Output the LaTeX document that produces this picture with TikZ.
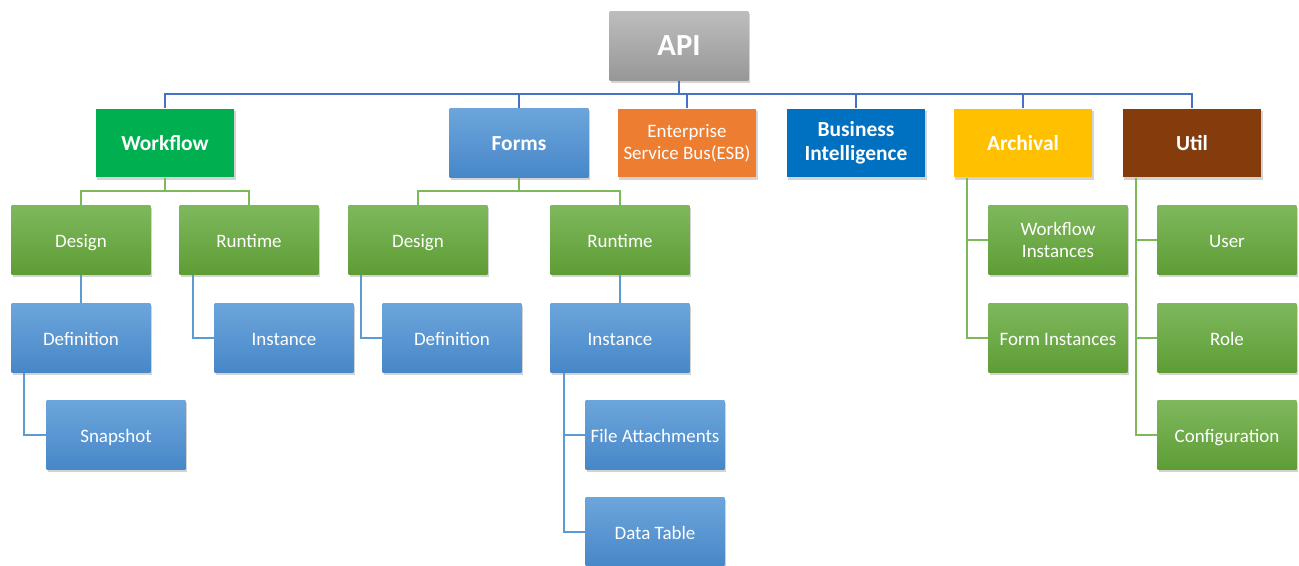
\documentclass[tikz,border=0pt]{standalone}
\usepackage{fontspec}
\setmainfont{Carlito}
\usetikzlibrary{shadows}
\definecolor{apitop}{HTML}{BDBDBD}
\definecolor{apibot}{HTML}{979797}
\definecolor{grtop}{HTML}{7EB85D}
\definecolor{grbot}{HTML}{5E9D35}
\definecolor{bltop}{HTML}{6CA5DB}
\definecolor{blbot}{HTML}{4787C8}
\definecolor{wfgreen}{HTML}{00B050}
\definecolor{esborange}{HTML}{ED7D31}
\definecolor{biblue}{HTML}{0070C0}
\definecolor{argold}{HTML}{FFC000}
\definecolor{utbrown}{HTML}{843C0C}
\definecolor{busblue}{HTML}{4472C4}
\definecolor{lngreen}{HTML}{7DB85B}
\definecolor{lnblue}{HTML}{5B9BD5}
\tikzset{
  box/.style={rectangle,inner sep=0pt,minimum width=2.78cm,minimum height=1.38cm,
    align=center,text=white,drop shadow={opacity=0.35,shadow xshift=0.6pt,shadow yshift=-1.2pt}},
  oneline/.style={text height=2.15ex,text depth=0.4ex},
  small/.style={font=\fontsize{10.8}{12.6}\selectfont},
  big/.style={font=\fontsize{12.2}{13.8}\selectfont\bfseries},
  greenbox/.style={box,small,oneline,top color=grtop,bottom color=grbot},
  bluebox/.style={box,small,oneline,top color=bltop,bottom color=blbot},
  toplink/.style={draw=busblue,line width=0.9pt},
  greenlink/.style={draw=lngreen,line width=0.9pt},
  bluelink/.style={draw=lnblue,line width=0.9pt}
}
\begin{document}
\begin{tikzpicture}[x=0.02cm,y=-0.02cm]
\useasboundingbox (0,0) rectangle (1299,565);
% root
\node[box,top color=apitop,bottom color=apibot,font=\fontsize{17.5}{20}\selectfont\bfseries] (api) at (679,46) {API};
% first level
\node[box,big,oneline,fill=wfgreen] (wf) at (165,143) {Workflow};
\node[box,big,oneline,top color=bltop,bottom color=blbot] (forms) at (519,143) {Forms};
\node[box,small,fill=esborange] (esb) at (687,143) {Enterprise\\Service Bus(ESB)};
\node[box,big,fill=biblue] (bi) at (856,143) {Business\\Intelligence};
\node[box,big,oneline,fill=argold] (arch) at (1023,143) {Archival};
\node[box,big,oneline,fill=utbrown] (util) at (1192,143) {Util};
% workflow
\node[greenbox] (wfdes) at (81,240) {Design};
\node[greenbox] (wfrun) at (249,240) {Runtime};
\node[bluebox] (wfdef) at (81,338) {Definition};
\node[bluebox] (wfinst) at (284,338) {Instance};
\node[bluebox] (wfsnap) at (116,435) {Snapshot};
% forms
\node[greenbox] (fmdes) at (418,240) {Design};
\node[greenbox] (fmrun) at (620,240) {Runtime};
\node[bluebox] (fmdef) at (452,338) {Definition};
\node[bluebox] (fminst) at (620,338) {Instance};
\node[bluebox] (fmfile) at (655,435) {File Attachments};
\node[bluebox] (fmdata) at (655,532) {Data Table};
% archival
\node[box,small,top color=grtop,bottom color=grbot] (arwf) at (1058,240) {Workflow\\Instances};
\node[greenbox] (arfm) at (1058,338) {Form Instances};
% util
\node[greenbox] (utuser) at (1227,240) {User};
\node[greenbox] (utrole) at (1227,338) {Role};
\node[greenbox] (utconf) at (1227,435) {Configuration};
% connectors
\coordinate (apibus) at (679,94);
\draw[toplink] (api.south) -- (apibus);
\foreach \n in {wf,forms,esb,bi,arch,util}
  \draw[toplink] (apibus) -| (\n.north);
\coordinate (wfbus) at (165,191);
\draw[greenlink] (wf.south) -- (wfbus) -| (wfdes.north);
\draw[greenlink] (wfbus) -| (wfrun.north);
\coordinate (fmbus) at (519,191);
\draw[greenlink] (forms.south) -- (fmbus) -| (fmdes.north);
\draw[greenlink] (fmbus) -| (fmrun.north);
\draw[bluelink] (wfdes.south) -- (wfdef.north);
\draw[bluelink] ([xshift=0.28cm]wfrun.south west) |- (wfinst.west);
\draw[bluelink] ([xshift=0.26cm]wfdef.south west) |- (wfsnap.west);
\draw[bluelink] ([xshift=0.26cm]fmdes.south west) |- (fmdef.west);
\draw[bluelink] (fmrun.south) -- (fminst.north);
\draw[bluelink] ([xshift=0.28cm]fminst.south west) |- (fmfile.west);
\draw[bluelink] ([xshift=0.28cm]fminst.south west) |- (fmdata.west);
\draw[greenlink] ([xshift=0.28cm]arch.south west) |- (arwf.west);
\draw[greenlink] ([xshift=0.28cm]arch.south west) |- (arfm.west);
\draw[greenlink] ([xshift=0.28cm]util.south west) |- (utuser.west);
\draw[greenlink] ([xshift=0.28cm]util.south west) |- (utrole.west);
\draw[greenlink] ([xshift=0.28cm]util.south west) |- (utconf.west);
\end{tikzpicture}
\end{document}
